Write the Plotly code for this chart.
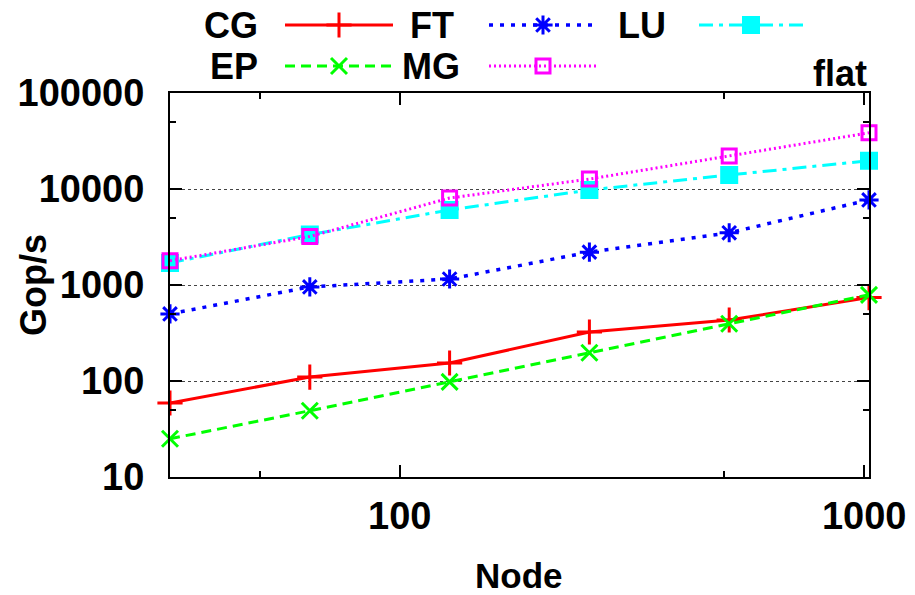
import math
import plotly.graph_objects as go

# ---- data ----
nodes = [32, 64, 128, 256, 512, 1024]
cg = [59, 110, 154, 324, 432, 740]
ep = [25, 49, 98, 197, 395, 790]
ft = [500, 955, 1155, 2200, 3500, 7700]
lu = [1700, 3350, 6040, 9770, 14000, 19700]
mg = [1790, 3200, 8050, 12700, 22100, 38500]

x_tickvals = [100, 1000]
x_ticktext = ["100", "1000"]
y_tickvals = [10, 100, 1000, 10000, 100000]
y_ticktext = ["10", "100", "1000", "10000", "100000"]
x_minor = [50, 500]
y_minor = [50, 500, 5000, 50000]

FONT = "Liberation Sans, Arial, Helvetica, sans-serif"

# plot-area pixel geometry
L, R, T, B = 170, 869, 93, 477
W, H = 915, 595


def bold(t):
    return "<b>" + t + "</b>"


series = [
    dict(name="CG", y=cg, color="#ff0000", dash="solid", symbol="cross-thin-open", msize=18, lw=3),
    dict(name="EP", y=ep, color="#00ff00", dash="10px,6px", symbol="x-thin-open", msize=16, lw=3),
    dict(name="FT", y=ft, color="#0000ff", dash="4px,7px", symbol="asterisk-open", msize=16, lw=3.5),
    dict(name="LU", y=lu, color="#00ffff", dash="14px,6px,4px,6px", symbol="square", msize=15, lw=3),
    dict(name="MG", y=mg, color="#ff00ff", dash="2px,3px", symbol="square-open", msize=14, lw=3),
]

fig = go.Figure()
for s in series:
    fig.add_trace(go.Scatter(
        x=nodes, y=s["y"], mode="lines+markers", name=s["name"],
        line=dict(color=s["color"], width=s["lw"], dash=s["dash"]),
        marker=dict(symbol=s["symbol"], size=s["msize"], color=s["color"],
                    line=dict(color=s["color"], width=3)),
        cliponaxis=False, showlegend=False,
    ))

# ---- custom gnuplot-style legend (text left of sample), in pixel axes x2/y2 ----
legend_pos = {
    "CG": (260, 25, 285, 393, 339),
    "EP": (260, 66, 285, 393, 339),
    "FT": (456, 25, 489, 595, 543),
    "MG": (462, 66, 489, 597, 543),
    "LU": (668, 25, 699, 805, 751),
}
for s in series:
    tx, ty, l0, l1, mx = legend_pos[s["name"]]
    fig.add_annotation(text=bold(s["name"]), x=tx, y=ty, xref="x2", yref="y2",
                       xanchor="right", yanchor="middle", showarrow=False,
                       font=dict(family=FONT, size=36, color="black"))
    fig.add_shape(type="line", xref="x2", yref="y2",
                  x0=l0, x1=l1, y0=ty, y1=ty,
                  line=dict(color=s["color"], width=s["lw"], dash=s["dash"]))
    fig.add_trace(go.Scatter(
        x=[mx], y=[ty], xaxis="x2", yaxis="y2", mode="markers",
        marker=dict(symbol=s["symbol"], size=s["msize"], color=s["color"],
                    line=dict(color=s["color"], width=3)),
        cliponaxis=False, showlegend=False, hoverinfo="skip",
    ))

fig.add_annotation(text=bold("flat"), x=869, y=73, xref="x2", yref="y2",
                   xanchor="right", yanchor="middle", showarrow=False,
                   font=dict(family=FONT, size=36, color="black"))
fig.add_annotation(text=bold("Gop/s"), x=33, y=(T + B) / 2, xref="x2", yref="y2",
                   textangle=-90, xanchor="center", yanchor="middle", showarrow=False,
                   font=dict(family=FONT, size=36, color="black"))
fig.add_annotation(text=bold("Node"), x=519, y=575, xref="x2", yref="y2",
                   xanchor="center", yanchor="middle", showarrow=False,
                   font=dict(family=FONT, size=35, color="black"))

axis_common = dict(
    showline=True, linecolor="black", linewidth=2, mirror="allticks",
    ticks="inside", tickcolor="black", tickwidth=2, zeroline=False,
    tickfont=dict(family=FONT, size=38, color="black", weight="bold"),
)

eps = 1e-7
fig.update_layout(
    width=W, height=H,
    margin=dict(l=0, r=0, t=0, b=0, autoexpand=False),
    paper_bgcolor="white", plot_bgcolor="rgba(0,0,0,0)",
    xaxis=dict(type="log", domain=[L / W, R / W],
               range=[math.log10(32) - eps, math.log10(1024) + eps], tickmode="array",
               tickvals=x_tickvals, ticktext=x_ticktext, ticklen=12,
               showgrid=False, ticklabelstandoff=4,
               minor=dict(tickmode="array", tickvals=x_minor, ticklen=6,
                          ticks="inside", tickcolor="black", tickwidth=2, showgrid=False),
               **axis_common),
    yaxis=dict(type="log", domain=[(H - B) / H, (H - T) / H], range=[1, 5], tickmode="array",
               tickvals=y_tickvals, ticktext=y_ticktext, ticklen=12,
               showgrid=True, gridcolor="#444444", gridwidth=1, griddash="dot",
               ticklabelstandoff=16,
               minor=dict(tickmode="array", tickvals=y_minor, ticklen=6,
                          ticks="inside", tickcolor="black", tickwidth=2, showgrid=False),
               **axis_common),
    xaxis2=dict(domain=[0, 1], range=[0, W], visible=False, anchor="y2"),
    yaxis2=dict(domain=[0, 1], range=[H, 0], visible=False, anchor="x2"),
)

fig.write_html("out.html", config={"displayModeBar": False},
               post_script="document.body.style.margin='0';")
